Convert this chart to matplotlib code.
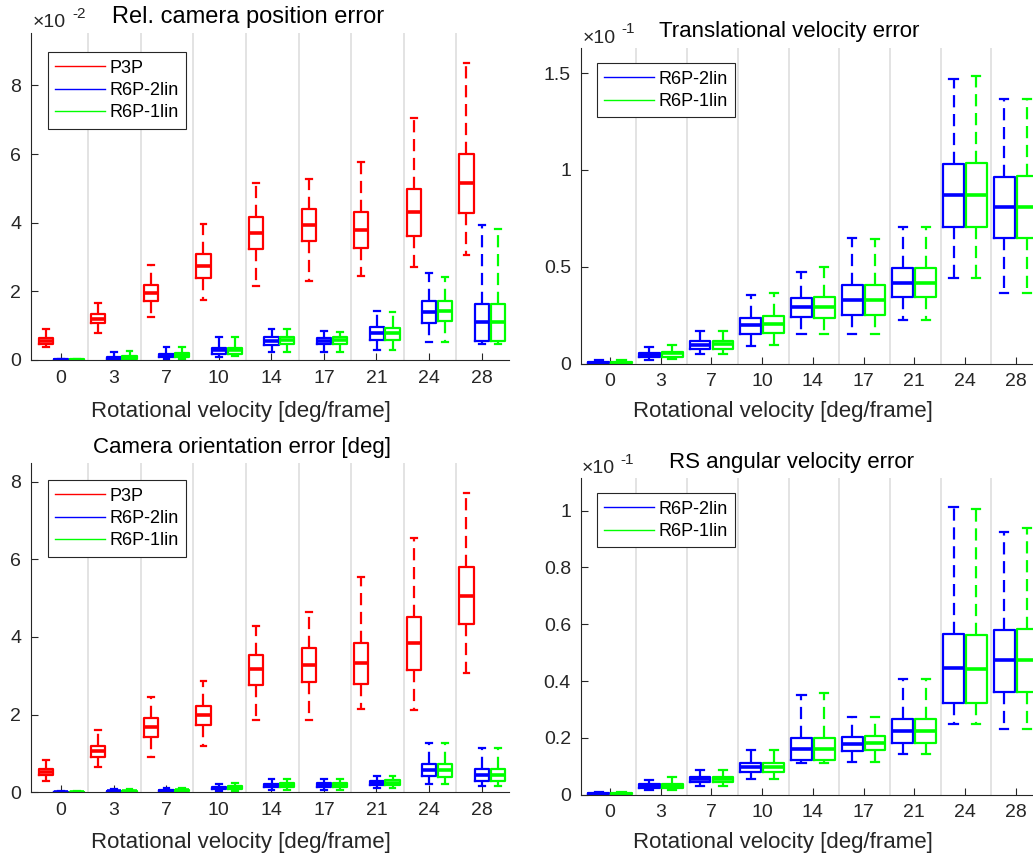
"""
Box plots of pose and velocity errors versus rotational velocity
for P3P, R6P-2lin and R6P-1lin.
"""

import numpy as np
import matplotlib
matplotlib.use("Agg")
import matplotlib.pyplot as plt
from matplotlib.lines import Line2D

plt.rcParams["font.family"] = ["Liberation Sans", "DejaVu Sans"]


# =============================================================================
# Data  (each row: whisker low, q1, median, q3, whisker high)
# =============================================================================

velocities = ["0", "3", "7", "10", "14", "17", "21", "24", "28"]

# Rel. camera position error  (x 1e-2)
pos_p3p = np.array([
    [0.37, 0.46, 0.54, 0.63, 0.91],
    [0.80, 1.07, 1.20, 1.35, 1.65],
    [1.24, 1.71, 1.96, 2.19, 2.76],
    [1.74, 2.38, 2.75, 3.08, 3.96],
    [2.15, 3.23, 3.70, 4.17, 5.17],
    [2.29, 3.47, 3.93, 4.40, 5.27],
    [2.44, 3.26, 3.80, 4.31, 5.78],
    [2.70, 3.62, 4.32, 4.99, 7.06],
    [3.07, 4.27, 5.15, 6.01, 8.65],
])
pos_2lin = np.array([
    [0.00, 0.005, 0.01, 0.02, 0.04],
    [0.01, 0.04, 0.07, 0.10, 0.22],
    [0.04, 0.10, 0.15, 0.18, 0.39],
    [0.10, 0.18, 0.28, 0.35, 0.66],
    [0.23, 0.45, 0.55, 0.66, 0.89],
    [0.23, 0.47, 0.56, 0.65, 0.85],
    [0.30, 0.59, 0.79, 0.95, 1.42],
    [0.52, 1.09, 1.41, 1.73, 2.53],
    [0.46, 0.54, 1.11, 1.64, 3.93],
])
pos_1lin = np.array([
    [0.00, 0.005, 0.01, 0.02, 0.04],
    [0.01, 0.04, 0.08, 0.11, 0.25],
    [0.04, 0.09, 0.15, 0.19, 0.38],
    [0.11, 0.18, 0.28, 0.36, 0.68],
    [0.23, 0.46, 0.57, 0.68, 0.89],
    [0.23, 0.47, 0.57, 0.66, 0.83],
    [0.29, 0.57, 0.78, 0.93, 1.41],
    [0.52, 1.14, 1.42, 1.73, 2.43],
    [0.46, 0.56, 1.10, 1.62, 3.81],
])

# Translational velocity error  (x 1e-1)
tvel_2lin = np.array([
    [0.000, 0.002, 0.005, 0.007, 0.017],
    [0.019, 0.033, 0.045, 0.055, 0.084],
    [0.048, 0.074, 0.098, 0.115, 0.169],
    [0.089, 0.155, 0.198, 0.237, 0.353],
    [0.153, 0.239, 0.291, 0.341, 0.475],
    [0.155, 0.251, 0.329, 0.406, 0.647],
    [0.227, 0.342, 0.416, 0.492, 0.704],
    [0.444, 0.707, 0.869, 1.032, 1.469],
    [0.365, 0.650, 0.807, 0.965, 1.368],
])
tvel_1lin = np.array([
    [0.000, 0.002, 0.005, 0.007, 0.017],
    [0.021, 0.036, 0.052, 0.062, 0.095],
    [0.050, 0.076, 0.101, 0.115, 0.169],
    [0.095, 0.160, 0.205, 0.244, 0.366],
    [0.153, 0.236, 0.292, 0.346, 0.499],
    [0.155, 0.253, 0.330, 0.406, 0.642],
    [0.227, 0.344, 0.418, 0.494, 0.704],
    [0.444, 0.704, 0.870, 1.036, 1.486],
    [0.365, 0.650, 0.809, 0.967, 1.368],
])

# Camera orientation error [deg]
ori_p3p = np.array([
    [0.30, 0.44, 0.53, 0.60, 0.82],
    [0.66, 0.90, 1.06, 1.20, 1.61],
    [0.91, 1.42, 1.68, 1.90, 2.45],
    [1.19, 1.72, 1.98, 2.23, 2.87],
    [1.87, 2.77, 3.17, 3.54, 4.27],
    [1.85, 2.84, 3.29, 3.72, 4.64],
    [2.15, 2.78, 3.32, 3.85, 5.55],
    [2.13, 3.14, 3.84, 4.52, 6.54],
    [3.08, 4.33, 5.06, 5.79, 7.70],
])
ori_2lin = np.array([
    [0.00, 0.00, 0.005, 0.01, 0.03],
    [0.00, 0.01, 0.03, 0.03, 0.08],
    [0.01, 0.03, 0.04, 0.06, 0.11],
    [0.03, 0.08, 0.11, 0.14, 0.22],
    [0.06, 0.14, 0.18, 0.22, 0.33],
    [0.06, 0.14, 0.19, 0.23, 0.34],
    [0.10, 0.19, 0.25, 0.30, 0.42],
    [0.21, 0.41, 0.58, 0.73, 1.27],
    [0.15, 0.29, 0.45, 0.59, 1.13],
])
ori_1lin = np.array([
    [0.00, 0.00, 0.005, 0.01, 0.03],
    [0.00, 0.01, 0.03, 0.04, 0.08],
    [0.01, 0.03, 0.05, 0.06, 0.11],
    [0.03, 0.08, 0.11, 0.15, 0.23],
    [0.07, 0.14, 0.18, 0.23, 0.33],
    [0.07, 0.14, 0.19, 0.24, 0.35],
    [0.10, 0.19, 0.25, 0.31, 0.42],
    [0.21, 0.40, 0.58, 0.74, 1.27],
    [0.15, 0.29, 0.45, 0.60, 1.13],
])

# RS angular velocity error  (x 1e-1)
avel_2lin = np.array([
    [0.000, 0.001, 0.004, 0.005, 0.008],
    [0.016, 0.022, 0.031, 0.038, 0.052],
    [0.032, 0.045, 0.054, 0.063, 0.088],
    [0.054, 0.080, 0.097, 0.112, 0.156],
    [0.113, 0.123, 0.161, 0.198, 0.351],
    [0.115, 0.153, 0.177, 0.202, 0.273],
    [0.144, 0.183, 0.224, 0.266, 0.408],
    [0.249, 0.324, 0.445, 0.565, 1.014],
    [0.230, 0.363, 0.473, 0.580, 0.926],
])
avel_1lin = np.array([
    [0.000, 0.001, 0.004, 0.005, 0.008],
    [0.016, 0.025, 0.032, 0.039, 0.063],
    [0.032, 0.043, 0.054, 0.062, 0.088],
    [0.054, 0.080, 0.096, 0.112, 0.157],
    [0.113, 0.122, 0.162, 0.200, 0.358],
    [0.115, 0.157, 0.183, 0.207, 0.275],
    [0.144, 0.183, 0.224, 0.266, 0.408],
    [0.249, 0.324, 0.444, 0.562, 1.007],
    [0.230, 0.360, 0.473, 0.583, 0.940],
])


# =============================================================================
# Helpers
# =============================================================================

W, H = 1033, 857
AXIS_COLOR = "#262626"


def px(x, y):
    """Pixel position (from top left) to figure fraction."""
    return x / W, 1.0 - y / H


def axes_px(left, top, right, bottom):
    return [left / W, 1.0 - bottom / H, (right - left) / W, (bottom - top) / H]


def draw_boxes(ax, series, colors, offsets, width, capwidth):
    for arr, color, off in zip(series, colors, offsets):
        stats = [
            dict(whislo=r[0], q1=r[1], med=r[2], q3=r[3], whishi=r[4])
            for r in arr
        ]
        ax.bxp(
            stats,
            positions=np.arange(len(arr)) + off,
            widths=width,
            capwidths=capwidth,
            showfliers=False,
            manage_ticks=False,
            boxprops=dict(color=color, linewidth=1.6),
            medianprops=dict(color=color, linewidth=2.6),
            whiskerprops=dict(color=color, linewidth=1.6,
                              linestyle=(0, (5.5, 3))),
            capprops=dict(color=color, linewidth=1.6),
        )


def style_axes(ax, xlim, ylim, yticks, yticklabels):
    for i in range(len(velocities) - 1):
        ax.axvline(i + 0.52, color="#e0e0e0", linewidth=1.3, zorder=0)
    ax.set_xlim(*xlim)
    ax.set_ylim(*ylim)
    ax.set_xticks(np.arange(len(velocities)))
    ax.set_xticklabels(velocities)
    ax.set_yticks(yticks)
    ax.set_yticklabels(yticklabels)
    for side in ("top", "right"):
        ax.spines[side].set_visible(False)
    for side in ("left", "bottom"):
        ax.spines[side].set_color(AXIS_COLOR)
        ax.spines[side].set_linewidth(0.8)
    ax.tick_params(direction="in", length=5, width=0.8, colors=AXIS_COLOR,
                   labelsize=14)
    ax.tick_params(axis="x", pad=7)
    ax.tick_params(axis="y", pad=7)


def add_legend(ax, labels, colors, x, y):
    handles = [Line2D([], [], color=c, linewidth=1.0) for c in colors]
    leg = ax.legend(
        handles, labels,
        loc="upper left",
        bbox_to_anchor=px(x, y),
        bbox_transform=fig.transFigure,
        borderaxespad=0,
        fontsize=13,
        fancybox=False,
        framealpha=1,
        edgecolor=AXIS_COLOR,
        handlelength=2.75,
        handletextpad=0.3,
        borderpad=0.4,
        labelspacing=0.3,
    )
    leg.get_frame().set_linewidth(0.8)


def add_exponent(x, y, power):
    fig.text(*px(x, y), "\u00d710", fontsize=14, color=AXIS_COLOR,
             ha="left", va="baseline")
    fig.text(*px(x + 39, y - 9.5), power, fontsize=11, color=AXIS_COLOR,
             ha="left", va="baseline")


# =============================================================================
# Visualization
# =============================================================================

fig = plt.figure(figsize=(W / 100, H / 100), dpi=100)

three_colors = ["#ff0000", "#0000ff", "#00ff00"]
two_colors = ["#0000ff", "#00ff00"]
three_labels = ["P3P", "R6P-2lin", "R6P-1lin"]
two_labels = ["R6P-2lin", "R6P-1lin"]
three_offsets = [-0.29, 0.005, 0.305]
two_offsets = [-0.225, 0.225]

# top left
ax1 = fig.add_axes(axes_px(31, 33, 509, 360))
draw_boxes(ax1, [pos_p3p, pos_2lin, pos_1lin], three_colors,
           three_offsets, 0.27, 0.11)
style_axes(ax1, (-0.57, 8.52), (0, 9.53), [0, 2, 4, 6, 8],
           ["0", "2", "4", "6", "8"])
add_legend(ax1, three_labels, three_colors, 47.7, 52.3)
add_exponent(33, 27, "-2")
fig.text(*px(248, 23), "Rel. camera position error", fontsize=17,
         ha="center", va="baseline")
fig.text(*px(241, 417.5), "Rotational velocity [deg/frame]", fontsize=16,
         color=AXIS_COLOR, ha="center", va="baseline")

# top right
ax2 = fig.add_axes(axes_px(580.7, 47.7, 1042, 363.5))
draw_boxes(ax2, [tvel_2lin, tvel_1lin], two_colors, two_offsets, 0.41, 0.16)
style_axes(ax2, (-0.58, 8.52), (0, 1.632), [0, 0.5, 1, 1.5],
           ["0", "0.5", "1", "1.5"])
add_legend(ax2, two_labels, two_colors, 596.7, 63.3)
add_exponent(582.7, 42.7, "-1")
fig.text(*px(788.7, 36.7), "Translational velocity error", fontsize=16,
         ha="center", va="baseline")
fig.text(*px(782.8, 417.5), "Rotational velocity [deg/frame]", fontsize=16,
         color=AXIS_COLOR, ha="center", va="baseline")

# bottom left
ax3 = fig.add_axes(axes_px(31, 463.3, 509, 792.3))
draw_boxes(ax3, [ori_p3p, ori_2lin, ori_1lin], three_colors,
           three_offsets, 0.27, 0.11)
style_axes(ax3, (-0.57, 8.52), (0, 8.47), [0, 2, 4, 6, 8],
           ["0", "2", "4", "6", "8"])
add_legend(ax3, three_labels, three_colors, 47.7, 480.3)
fig.text(*px(242, 453.3), "Camera orientation error [deg]", fontsize=16,
         ha="center", va="baseline")
fig.text(*px(241, 848.3), "Rotational velocity [deg/frame]", fontsize=16,
         color=AXIS_COLOR, ha="center", va="baseline")

# bottom right
ax4 = fig.add_axes(axes_px(580.7, 478.3, 1042, 794.7))
draw_boxes(ax4, [avel_2lin, avel_1lin], two_colors, two_offsets, 0.41, 0.16)
style_axes(ax4, (-0.58, 8.52), (0, 1.114), [0, 0.2, 0.4, 0.6, 0.8, 1],
           ["0", "0.2", "0.4", "0.6", "0.8", "1"])
add_legend(ax4, two_labels, two_colors, 596.7, 493.3)
add_exponent(581.7, 473.3, "-1")
fig.text(*px(791.5, 468.3), "RS angular velocity error", fontsize=16,
         ha="center", va="baseline")
fig.text(*px(782.8, 848.3), "Rotational velocity [deg/frame]", fontsize=16,
         color=AXIS_COLOR, ha="center", va="baseline")

fig.savefig("out.png", dpi=100)
